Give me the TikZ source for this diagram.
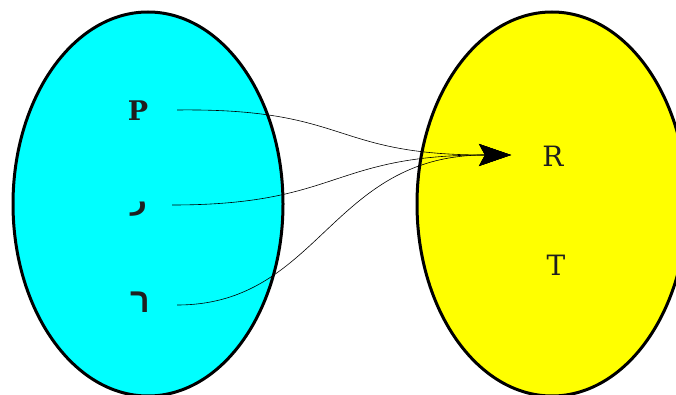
\documentclass[tikz,border=0pt]{standalone}
\usepackage{fontspec}
\setmainfont{DejaVu Serif}
\newfontfamily\arabicfont[Script=Arabic]{DejaVu Sans}
\newfontfamily\hebfont[Script=Hebrew]{Liberation Sans}
\TeXXeTstate=1
\usetikzlibrary{arrows.meta}
\definecolor{setcyan}{RGB}{0,255,255}
\definecolor{setyellow}{RGB}{255,255,0}
\begin{document}
\begin{tikzpicture}[x=1pt,y=-1pt,
  setshape/.style={draw=black,line width=3pt},
  lbl/.style={inner sep=0pt,font=\fontsize{28}{32}\selectfont,text=black!88},
  conn/.style={draw=black,line width=0.6pt,-{Stealth[length=32pt,width=22pt,inset=6pt]}}]
\useasboundingbox (0,0) rectangle (676,395);
\fill[setcyan] (148,204) ellipse [x radius=135,y radius=192];
\draw[setshape] (148,204) ellipse [x radius=135,y radius=192];
\fill[setyellow] (552,204) ellipse [x radius=135,y radius=192];
\draw[setshape] (552,204) ellipse [x radius=135,y radius=192];
\node[lbl,font=\fontsize{27}{30}\selectfont\bfseries] (p) at (138,111) {P};
\node[lbl,font=\fontsize{28}{32}\selectfont\arabicfont\bfseries] (ar) at (139,209) {\beginR ر\endR};
\node[lbl,font=\fontsize{34}{38}\selectfont\hebfont\bfseries] (he) at (140,302) {\beginR ר\endR};
\node[lbl] (r) at (553,156) {R};
\node[lbl] (t) at (556,265) {T};
\coordinate (sp) at (177,110);
\coordinate (sa) at (172,205);
\coordinate (sh) at (177,305);
\coordinate (tip) at (511,155);
\draw[conn] (sp) .. controls (350,108) and (330,155) .. (tip);
\draw[conn] (sa) .. controls (340,205) and (330,155) .. (tip);
\draw[conn] (sh) .. controls (320,305) and (330,155) .. (tip);
\end{tikzpicture}
\end{document}
